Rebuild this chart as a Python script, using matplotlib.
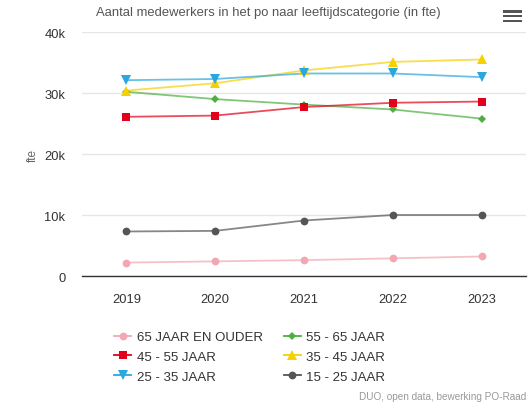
import matplotlib
matplotlib.use("Agg")
import matplotlib.pyplot as plt
from matplotlib.patches import Rectangle
from matplotlib.lines import Line2D
from matplotlib.ticker import FuncFormatter

years = ["2019", "2020", "2021", "2022", "2023"]
s65plus = [2.2, 2.4, 2.6, 2.9, 3.2]
s55_65 = [30.2, 29.0, 28.1, 27.3, 25.8]
s45_55 = [26.1, 26.3, 27.7, 28.4, 28.6]
s35_45 = [30.4, 31.6, 33.7, 35.1, 35.5]
s25_35 = [32.1, 32.3, 33.2, 33.2, 32.6]
s15_25 = [7.3, 7.4, 9.1, 10.0, 10.0]
yticks = [0, 10, 20, 30, 40]

series = {
    "65 JAAR EN OUDER": (s65plus, "#f2a7b3", "o", 5.6),
    "55 - 65 JAAR": (s55_65, "#4caf3f", "D", 3.8),
    "45 - 55 JAAR": (s45_55, "#e2001a", "s", 5.8),
    "35 - 45 JAAR": (s35_45, "#f6d000", "^", 6.5),
    "25 - 35 JAAR": (s25_35, "#2aa7df", "v", 6.5),
    "15 - 25 JAAR": (s15_25, "#555555", "o", 5.6),
}
# legend order (columns): col1 then col2
legend_order = ["65 JAAR EN OUDER", "45 - 55 JAAR", "25 - 35 JAAR",
                "55 - 65 JAAR", "35 - 45 JAAR", "15 - 25 JAAR"]

plt.rcParams['font.family'] = ['Liberation Sans', 'DejaVu Sans']
fig = plt.figure(figsize=(5.30, 4.06), dpi=100)
ax = fig.add_axes([0.1547, 0.3177, 0.8378, 0.601])

x = list(range(len(years)))
for name, (vals, col, mk, ms) in series.items():
    ax.plot(x, vals, color=col, lw=1.3, alpha=0.7, zorder=2)
    ax.plot(x, vals, color=col, lw=0, marker=mk, ms=ms, zorder=3,
            markeredgewidth=0)

ax.set_xlim(-0.5, 4.5)
ax.set_ylim(0, 40)
ax.set_yticks(yticks)
ax.yaxis.set_major_formatter(FuncFormatter(lambda v, p: "0" if v == 0 else f"{int(v)}k"))
ax.set_xticks(x)
ax.set_xticklabels(years)
ax.grid(axis='y', color='#e6e6e6', lw=1)
ax.set_axisbelow(True)
for s in ['top', 'right', 'left']:
    ax.spines[s].set_visible(False)
ax.spines['bottom'].set_color('#333333')
ax.spines['bottom'].set_linewidth(1)
ax.tick_params(axis='y', length=0, pad=12, labelsize=9.3, labelcolor='#333333')
ax.tick_params(axis='x', length=0, pad=12, labelsize=9.3, labelcolor='#333333')
ax.set_ylabel("fte", fontsize=8.5, color='#666666', labelpad=4)

fig.text(0.507, 0.969, "Aantal medewerkers in het po naar leeftijdscategorie (in fte)",
         ha='center', va='center', fontsize=9.4, color='#555555')

lh = []
for name in legend_order:
    vals, c, m, ms = series[name]
    lh.append(Line2D([0], [0], color=c, lw=1.3, marker=m, ms=ms, markeredgewidth=0))
leg = fig.legend(lh, legend_order, ncol=2, loc='upper left', bbox_to_anchor=(0.216, 0.182),
                 frameon=False, fontsize=9.5, handlelength=1.25, handletextpad=0.45,
                 columnspacing=1.6, labelspacing=0.56, borderaxespad=0, borderpad=0)
for t in leg.get_texts():
    t.set_color('#333333')

fig.text(0.992, 0.022, "DUO, open data, bewerking PO-Raad", ha='right', va='center',
         fontsize=7.2, color='#999999')

# menu icon
for yy in [0.970, 0.958, 0.946]:
    fig.patches.append(Rectangle((0.949, yy - 0.0033), 0.036, 0.0066, transform=fig.transFigure,
                                 facecolor='#555555', edgecolor='none', lw=0, figure=fig))

fig.savefig("out.png", dpi=100)
